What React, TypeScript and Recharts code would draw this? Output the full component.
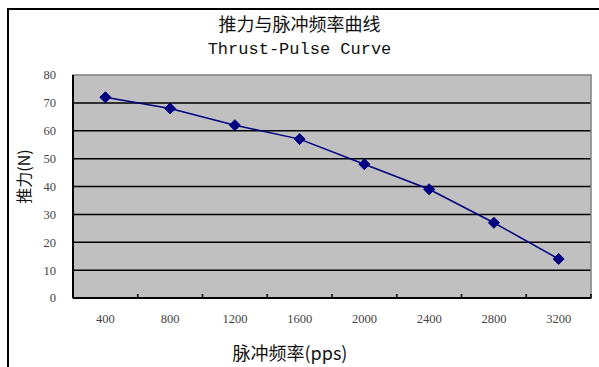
import { CartesianGrid, Line, LineChart, ReferenceArea, XAxis, YAxis } from "recharts";

const frequencies = ["400", "800", "1200", "1600", "2000", "2400", "2800", "3200"];
const thrust = [72, 68, 62, 57, 48, 39, 27, 14];
const yTicks = [0, 10, 20, 30, 40, 50, 60, 70, 80];

const data = frequencies.map((f, i) => ({ freq: f, thrust: thrust[i] }));

const W = 599;
const H = 367;
const margin = { top: 75, right: 8, left: 0, bottom: 0 };
const yAxisWidth = 73;
const xAxisHeight = 69;
const plotWidth = W - margin.left - margin.right - yAxisWidth;
const band = plotWidth / frequencies.length;

const serif = "'Liberation Serif', 'DejaVu Serif', serif";
const cjk = "'Noto Sans CJK SC', sans-serif";

function Diamond(props: any) {
  const { cx, cy } = props;
  if (cx == null || cy == null) return null;
  const r = 5.5;
  return (
    <path
      d={`M${cx},${cy - r}L${cx + r},${cy}L${cx},${cy + r}L${cx - r},${cy}Z`}
      fill="#000080"
      stroke="#000080"
    />
  );
}

// label at band centre, small inside tick mark at band boundary (Excel style)
function XTick(props: any) {
  const { x, y, payload } = props;
  const axisY = H - xAxisHeight;
  const bx = x + band / 2;
  return (
    <g>
      <line x1={bx} x2={bx} y1={axisY - 4} y2={axisY} stroke="#000" strokeWidth={1.5} />
      <text x={x} y={axisY + 24.5} textAnchor="middle" fontSize={12.5} fill="#444" fontFamily={serif}>
        {payload.value}
      </text>
    </g>
  );
}

function App() {
  return (
    <div style={{ position: "absolute", left: 0, top: 0, width: W, height: H, background: "#fff" }}>
      <div
        style={{
          position: "absolute",
          left: 7,
          top: 8,
          width: W,
          height: H,
          borderLeft: "2px solid #000",
          borderTop: "2px solid #000",
        }}
      />
      <div
        style={{
          position: "absolute",
          left: 0,
          width: W,
          top: 10,
          textAlign: "center",
          fontFamily: cjk,
          fontSize: 18,
          lineHeight: "26px",
          color: "#111",
        }}
      >
        推力与脉冲频率曲线
      </div>
      <div
        style={{
          position: "absolute",
          left: 0,
          width: W,
          top: 38,
          textAlign: "center",
          fontFamily: "'Liberation Mono', 'DejaVu Sans Mono', monospace",
          fontSize: 17,
          lineHeight: "24px",
          color: "#111",
        }}
      >
        Thrust-Pulse Curve
      </div>
      <LineChart
        width={W}
        height={H}
        data={data}
        margin={margin}
        style={{ position: "absolute", left: 0, top: 0 }}
      >
        <CartesianGrid
          vertical={false}
          fill="#c0c0c0"
          stroke="#000"
          strokeWidth={1.5}
          horizontalValues={[10, 20, 30, 40, 50, 60, 70]}
        />
        <ReferenceArea y1={0} y2={80} fill="none" stroke="#808080" strokeWidth={1.5} />
        <XAxis
          dataKey="freq"
          scale="band"
          height={xAxisHeight}
          tickLine={false}
          axisLine={{ stroke: "#000", strokeWidth: 2 }}
          tick={<XTick />}
          interval={0}
          label={{
            value: "脉冲频率(pps)",
            position: "insideBottom",
            offset: 7,
            dx: -42,
            fontSize: 18,
            fill: "#111",
            fontFamily: cjk,
          }}
        />
        <YAxis
          width={yAxisWidth}
          domain={[0, 80]}
          ticks={yTicks}
          tickLine={false}
          axisLine={{ stroke: "#000", strokeWidth: 2 }}
          tickMargin={11}
          tick={{ fontSize: 12.5, fill: "#444", fontFamily: serif }}
          interval={0}
          label={{
            value: "推力(N)",
            angle: -90,
            position: "insideLeft",
            offset: 24,
            dy: -10,
            fontSize: 16,
            fill: "#111",
            fontFamily: cjk,
            style: { textAnchor: "middle" },
          }}
        />
        <Line
          type="linear"
          dataKey="thrust"
          stroke="#000080"
          strokeWidth={1.5}
          dot={<Diamond />}
          activeDot={false}
          isAnimationActive={false}
        />
      </LineChart>
    </div>
  );
}

export default App;
